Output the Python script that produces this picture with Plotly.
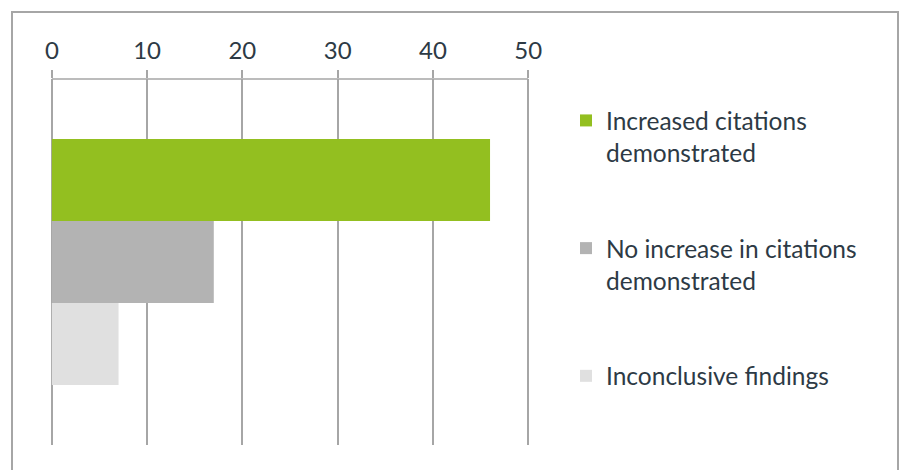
import plotly.graph_objects as go

categories = ["Studies"]
series_names = ["Increased citations<br>demonstrated",
                "No increase in citations<br>demonstrated",
                "Inconclusive findings"]
series_values = [46, 17, 7]
series_colors = ["#93bf20", "#b3b3b3", "#e0e0e0"]
tick_values = [0, 10, 20, 30, 40, 50]

fig = go.Figure()
for i, (name, val, col) in enumerate(zip(series_names, series_values, series_colors)):
    fig.add_trace(go.Bar(
        y=categories, x=[val], name=name, orientation="h",
        marker=dict(color=col, line=dict(width=0)),
        legendgroup=f"g{i}", hoverinfo="x+name",
    ))

L, R, T, B = 49, 368, 79, 25
W, H = 899, 470
pw, ph = W - L - R, H - T - B

def px_x(px):
    return (px - L) / pw

def px_y(py):
    return (H - B - py) / ph

fig.update_layout(
    width=W, height=H,
    margin=dict(l=L, r=R, t=T, b=B, pad=0),
    paper_bgcolor="white", plot_bgcolor="white",
    barmode="group", bargap=0.328, bargroupgap=0,
    font=dict(family="Lato, 'Open Sans', sans-serif", color="#2d3a45", size=24),
    xaxis=dict(
        side="top", range=[-0.3, 50.3], tickvals=tick_values,
        showgrid=True, gridcolor="#a6a6a6", gridwidth=1.5,
        showline=False,
        ticks="outside", ticklen=8, tickcolor="#a6a6a6", tickwidth=1.5,
        tickfont=dict(size=24, color="#2d3a45"), zeroline=False,
        ticklabelstandoff=1, fixedrange=True,
    ),
    yaxis=dict(
        autorange="reversed", showticklabels=False, showgrid=False,
        zeroline=False, showline=False, ticks="", fixedrange=True,
    ),
    legend=dict(
        x=px_x(566), y=px_y(98), xanchor="left", yanchor="top",
        traceorder="grouped", tracegroupgap=61, valign="top",
        font=dict(size=24.5, color="#2d3a45"), bgcolor="rgba(0,0,0,0)",
    ),
    showlegend=True,
    shapes=[
        dict(
            type="rect", xref="paper", yref="paper",
            x0=px_x(12), x1=px_x(898), y0=px_y(12), y1=px_y(480),
            line=dict(color="#a6a6a6", width=2), fillcolor="rgba(0,0,0,0)",
            layer="below",
        ),
        dict(
            type="line", xref="x", yref="paper",
            x0=tick_values[0], x1=tick_values[-1], y0=1, y1=1,
            line=dict(color="#a6a6a6", width=1.5), layer="below",
        ),
    ],
)

fig.write_html("out.html")
